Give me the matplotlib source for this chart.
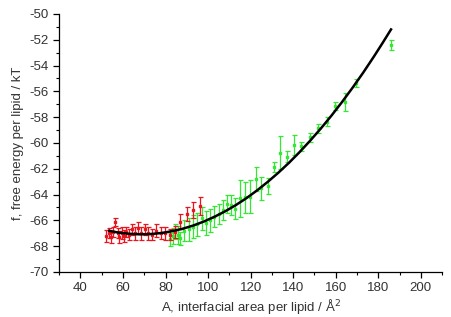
import matplotlib
matplotlib.use('Agg')
import matplotlib.pyplot as plt
from matplotlib.ticker import MultipleLocator

plt.rcParams['font.family'] = ['Liberation Sans', 'DejaVu Sans']
plt.rcParams['axes.unicode_minus'] = False

# red series (small areas)
red_x = [52.2, 53.3, 54.4, 55.4, 56.4, 57.5, 58.3, 59.5, 60.6, 61.6, 62.7, 64.0,
         65.5, 67.0, 68.6, 70.2, 71.9, 73.7, 75.7, 77.8, 79.9, 82.2, 84.6, 87.0,
         90.1, 92.9, 96.0]
red_y = [-67.2, -67.0, -67.3, -66.9, -66.1, -67.0, -67.3, -67.0, -67.2, -66.9, -67.1, -66.7,
         -67.0, -66.6, -67.0, -66.7, -67.0, -67.1, -66.8, -67.0, -67.0, -67.1, -66.9, -66.1,
         -65.5, -65.2, -64.9]
red_err = [0.45, 0.4, 0.45, 0.4, 0.3, 0.4, 0.45, 0.45, 0.45, 0.4, 0.45, 0.4,
           0.5, 0.45, 0.5, 0.45, 0.5, 0.45, 0.5, 0.45, 0.5, 0.45, 0.5, 0.6,
           0.55, 0.6, 0.7]

# green series (large areas)
green_x = [82.3, 83.5, 84.6, 85.8, 87.0, 88.8, 90.8, 92.8, 94.9, 97.3, 99.0, 101.0,
           103.0, 105.0, 106.9, 108.9, 110.8, 112.8, 115.1, 117.4, 119.8, 122.3, 125.1,
           128.0, 130.8, 133.9, 137.1, 140.5, 143.8, 147.7, 151.6, 155.7, 159.9,
           164.5, 169.5, 185.9]
green_y = [-67.45, -67.2, -66.85, -67.1, -67.4, -66.8, -66.7, -66.5, -66.3, -65.85, -66.2, -66.0,
           -65.7, -65.5, -65.2, -64.7, -64.8, -65.1, -64.3, -64.2, -64.15, -62.8, -63.5,
           -63.35, -61.85, -60.75, -61.05, -60.15, -60.25, -59.55, -58.85, -58.35, -57.15,
           -56.85, -55.35, -52.4]
green_err = [0.5, 0.6, 0.6, 0.7, 0.5, 0.8, 0.9, 0.9, 0.9, 0.9, 0.9, 0.9,
             0.8, 0.8, 0.8, 0.7, 0.8, 0.8, 1.4, 1.2, 1.3, 0.9, 0.9,
             0.6, 0.4, 1.3, 0.4, 0.8, 0.35, 0.35, 0.35, 0.35, 0.3,
             0.7, 0.3, 0.4]

# fitted curve
fit_x = [53.5, 58, 63, 68, 73, 78, 83, 88, 93, 98, 103, 108, 113, 118, 123, 128,
         133, 138, 143, 148, 153, 158, 163, 168, 173, 178, 182, 186]
fit_y = [-66.81, -66.95, -67.04, -67.08, -67.06, -66.98, -66.84, -66.65, -66.40, -66.09,
         -65.72, -65.30, -64.82, -64.28, -63.68, -63.02, -62.31, -61.54, -60.71, -59.82,
         -58.88, -57.88, -56.82, -55.70, -54.53, -53.29, -52.26, -51.20]

fig = plt.figure(figsize=(4.52, 3.17), dpi=100)
ax = fig.add_axes([0.131, 0.142, 0.847, 0.814])

ax.errorbar(red_x, red_y, yerr=red_err, fmt='s', color='#e8141e', ms=1.8,
            elinewidth=0.9, capsize=1.8, capthick=0.9, zorder=3)
ax.errorbar(green_x, green_y, yerr=green_err, fmt='s', color='#33e833', ms=1.8,
            elinewidth=0.9, capsize=1.8, capthick=0.9, zorder=2)
ax.plot(fit_x, fit_y, color='black', lw=1.8, zorder=4)

ax.set_xlim(30, 210)
ax.set_ylim(-70, -50)
ax.xaxis.set_minor_locator(MultipleLocator(10))
ax.yaxis.set_major_locator(MultipleLocator(2))
ax.yaxis.set_minor_locator(MultipleLocator(1))
ax.set_xticks([40, 60, 80, 100, 120, 140, 160, 180, 200])

ax.spines['top'].set_visible(False)
ax.spines['right'].set_visible(False)
for s in ('left', 'bottom'):
    ax.spines[s].set_linewidth(0.9)
ax.tick_params(which='major', direction='out', length=4, width=0.9, labelsize=9.5,
               labelcolor='#333333')
ax.tick_params(which='minor', direction='out', length=2.5, width=0.8)

ax.set_xlabel('A, interfacial area per lipid / Å$^2$', fontsize=9.5, labelpad=2, color='#333333')
ax.set_ylabel('f, free energy per lipid / kT', fontsize=9.5, labelpad=4, color='#333333')

fig.savefig('out.png', dpi=100)
